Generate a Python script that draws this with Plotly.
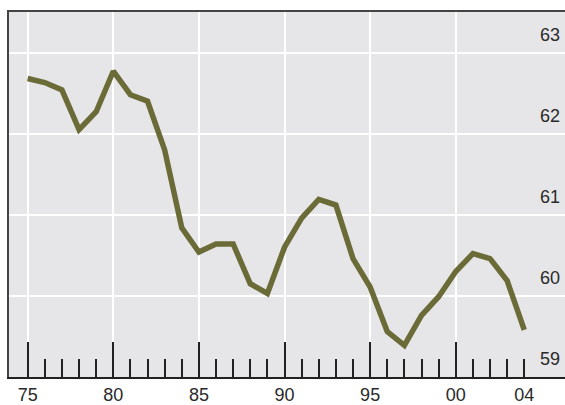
import plotly.graph_objects as go

years = list(range(1975, 2005))
values = [62.68, 62.63, 62.54, 62.05, 62.27, 62.77, 62.48, 62.40, 61.80, 60.84,
          60.54, 60.64, 60.64, 60.15, 60.03, 60.60, 60.96, 61.19, 61.12, 60.46,
          60.11, 59.56, 59.39, 59.76, 59.99, 60.30, 60.52, 60.46, 60.19, 59.58]

major_years = [1975, 1980, 1985, 1990, 1995, 2000]
major_labels = ["75", "80", "85", "90", "95", "00"]
minor_years = [y for y in range(1976, 2005) if y not in major_years]
extra_label_year = [2004]
extra_label_text = ["04"]
grid_extra_year = [2005]
y_ticks = [59, 60, 61, 62, 63]
y_labels = ["59", "60", "61", "62", "63"]

x_range = [1973.91, 2006.38]
y_range = [59, 63.5]

line_color = "#6b6b38"
bg = "#e6e6e9"
ink = "#222222"
font = dict(family="Liberation Sans, Arial, sans-serif", size=18, color="#2a2a2a")

fig = go.Figure()
fig.add_trace(go.Scatter(x=years, y=values, mode="lines",
                         line=dict(color=line_color, width=5.5),
                         xaxis="x", yaxis="y", hoverinfo="skip"))
# empty traces to register overlay axes
fig.add_trace(go.Scatter(x=[None], y=[None], xaxis="x2", yaxis="y", showlegend=False))
fig.add_trace(go.Scatter(x=[None], y=[None], xaxis="x3", yaxis="y", showlegend=False))
fig.add_trace(go.Scatter(x=[None], y=[None], xaxis="x", yaxis="y2", showlegend=False))

fig.update_layout(
    width=565, height=405,
    margin=dict(l=9, r=0, t=12, b=28),
    paper_bgcolor="white",
    plot_bgcolor=bg,
    showlegend=False,
    font=font,
    xaxis=dict(
        range=x_range, tickmode="array", tickvals=major_years, ticktext=major_labels,
        ticks="inside", ticklen=35, tickwidth=2, tickcolor=ink,
        minor=dict(tickmode="array", tickvals=minor_years, ticks="inside",
                   ticklen=18, tickwidth=2, tickcolor=ink, showgrid=False),
        showgrid=True, gridcolor="white", gridwidth=2,
        showline=True, linecolor=ink, linewidth=2,
        zeroline=False, tickfont=font, fixedrange=True,
    ),
    xaxis2=dict(
        overlaying="x", anchor="y", side="bottom", range=x_range,
        tickmode="array", tickvals=extra_label_year, ticktext=extra_label_text,
        ticks="inside", ticklen=18, tickwidth=2, tickcolor=ink,
        showgrid=False, showline=True, linecolor=ink, linewidth=2,
        zeroline=False, tickfont=font,
    ),
    xaxis3=dict(
        overlaying="x", anchor="y", side="top", range=x_range,
        tickmode="array", tickvals=grid_extra_year, showticklabels=False,
        ticks="", showgrid=True, gridcolor="white", gridwidth=2,
        showline=True, linecolor="#444444", linewidth=2, zeroline=False,
    ),
    yaxis=dict(
        range=y_range, side="right", ticklabelposition="inside",
        tickmode="array", tickvals=y_ticks, ticktext=y_labels,
        ticks="", ticklabelshift=-18, ticklabelstandoff=2,
        showgrid=True, gridcolor="white", gridwidth=2,
        showline=False, zeroline=False, tickfont=font,
    ),
    yaxis2=dict(
        overlaying="y", anchor="x", side="left", range=y_range,
        showticklabels=False, ticks="", showgrid=False,
        showline=True, linecolor="#444444", linewidth=2, zeroline=False,
    ),
)

fig.write_html("out.html", config={"displayModeBar": False},
               post_script="document.body.style.margin='0';document.body.style.overflow='hidden';")
